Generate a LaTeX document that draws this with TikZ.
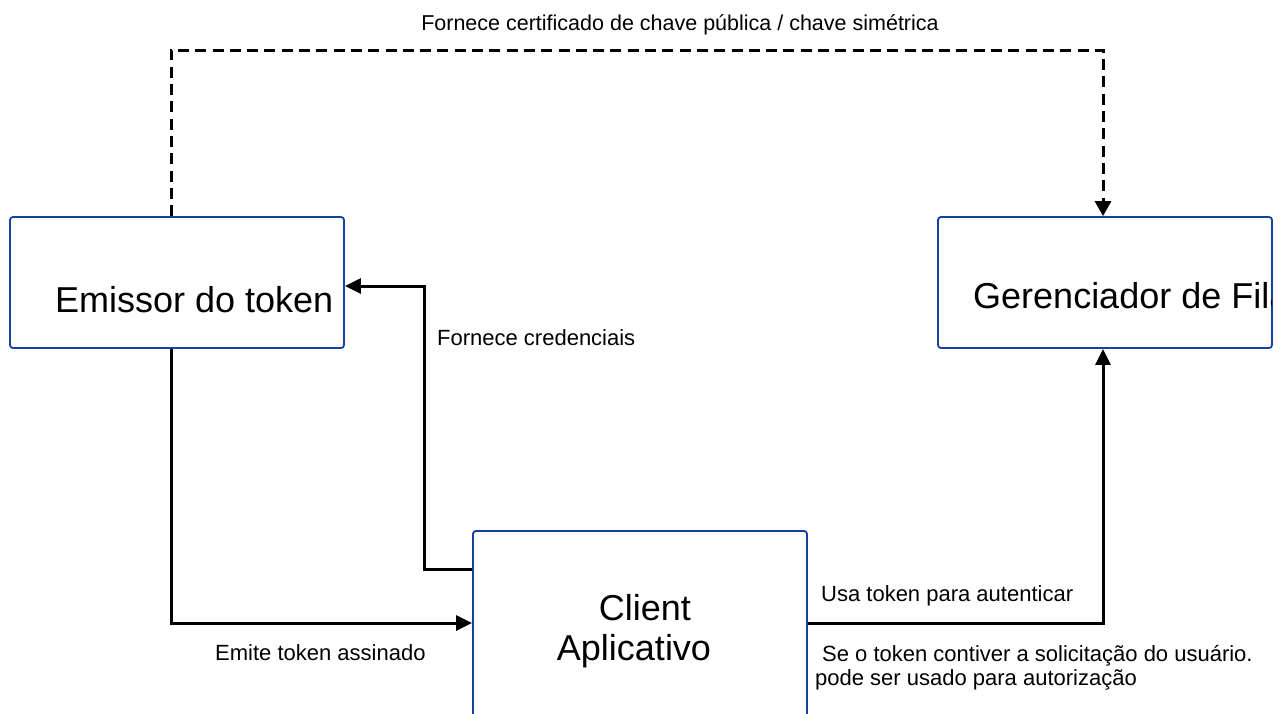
\documentclass[tikz,border=0pt]{standalone}
\usepackage{fontspec}
\setmainfont{Liberation Sans}
\usetikzlibrary{arrows.meta}
\definecolor{boxblue}{RGB}{20,66,160}
\tikzset{
  box/.style={draw=boxblue, line width=1.8pt, rounded corners=3pt, fill=white, inner sep=0pt},
  conn/.style={line width=3pt, -{Triangle[length=16pt,width=15pt]}},
  dashconn/.style={line width=3pt, dash pattern=on 11pt off 6.3pt, -{Triangle[length=15pt,width=16pt]}},
  bigtxt/.style={font=\fontsize{36}{42}\selectfont, inner sep=0pt},
  lbl/.style={font=\fontsize{22}{26}\selectfont, inner sep=0pt},
}
\begin{document}
\begin{tikzpicture}[x=1pt,y=-1pt]
\useasboundingbox (0,0) rectangle (1280,713);
\clip (0,0) rectangle (1280,713);
% boxes
\node[box, minimum width=334pt, minimum height=131pt] (emissor) at (177,282.5) {};
\node[box, minimum width=334pt, minimum height=131pt] (ger) at (1105,282.5) {};
\node[box, minimum width=334pt, minimum height=230pt] (client) at (640,646) {};
% box texts
\node[bigtxt, anchor=base west] (emtxt) at (55,312) {Emissor do token};
\begin{scope}
\clip ([xshift=2pt]ger.south west) rectangle ([xshift=-1pt]ger.north east);
\node[bigtxt, anchor=base west] (gertxt) at (973,308) {Gerenciador de Fila};
\end{scope}
\node[bigtxt, anchor=base] (cl1) at (645,620) {Client};
\node[bigtxt, anchor=base] (cl2) at (634,660) {Aplicativo};
% coordinates
\coordinate (dashy) at (0,50);
\coordinate (credx) at (424,0);
\coordinate (credtgt) at ([yshift=-3.5pt]emissor.east);
% connectors
\draw[dashconn] ([xshift=-6pt]emissor.north) -- ([xshift=-6pt]emissor.north |- dashy) -| ([xshift=-2pt]ger.north);
\draw[conn] ([xshift=-6pt]emissor.south) |- ([yshift=23pt]client.west);
\draw[conn] ([yshift=77pt]client.west) -| (credx |- credtgt) -- (credtgt);
\draw[conn] ([yshift=23pt]client.east) -| ([xshift=-2pt]ger.south);
% labels
\node[lbl, font=\fontsize{21.5}{25}\selectfont, anchor=base] (ltop) at (680,30) {Fornece certificado de chave pública / chave simétrica};
\node[lbl, anchor=base west] (lcred) at (437,345) {Fornece credenciais};
\node[lbl, anchor=base west] (lemite) at (215,660) {Emite token assinado};
\node[lbl, anchor=base west] (lusa) at (821,601) {Usa token para autenticar};
\node[lbl, anchor=base west] (lse1) at (822,661) {Se o token contiver a solicitação do usuário.};
\node[lbl, anchor=base west] (lse2) at (815,685) {pode ser usado para autorização};
\end{tikzpicture}
\end{document}
